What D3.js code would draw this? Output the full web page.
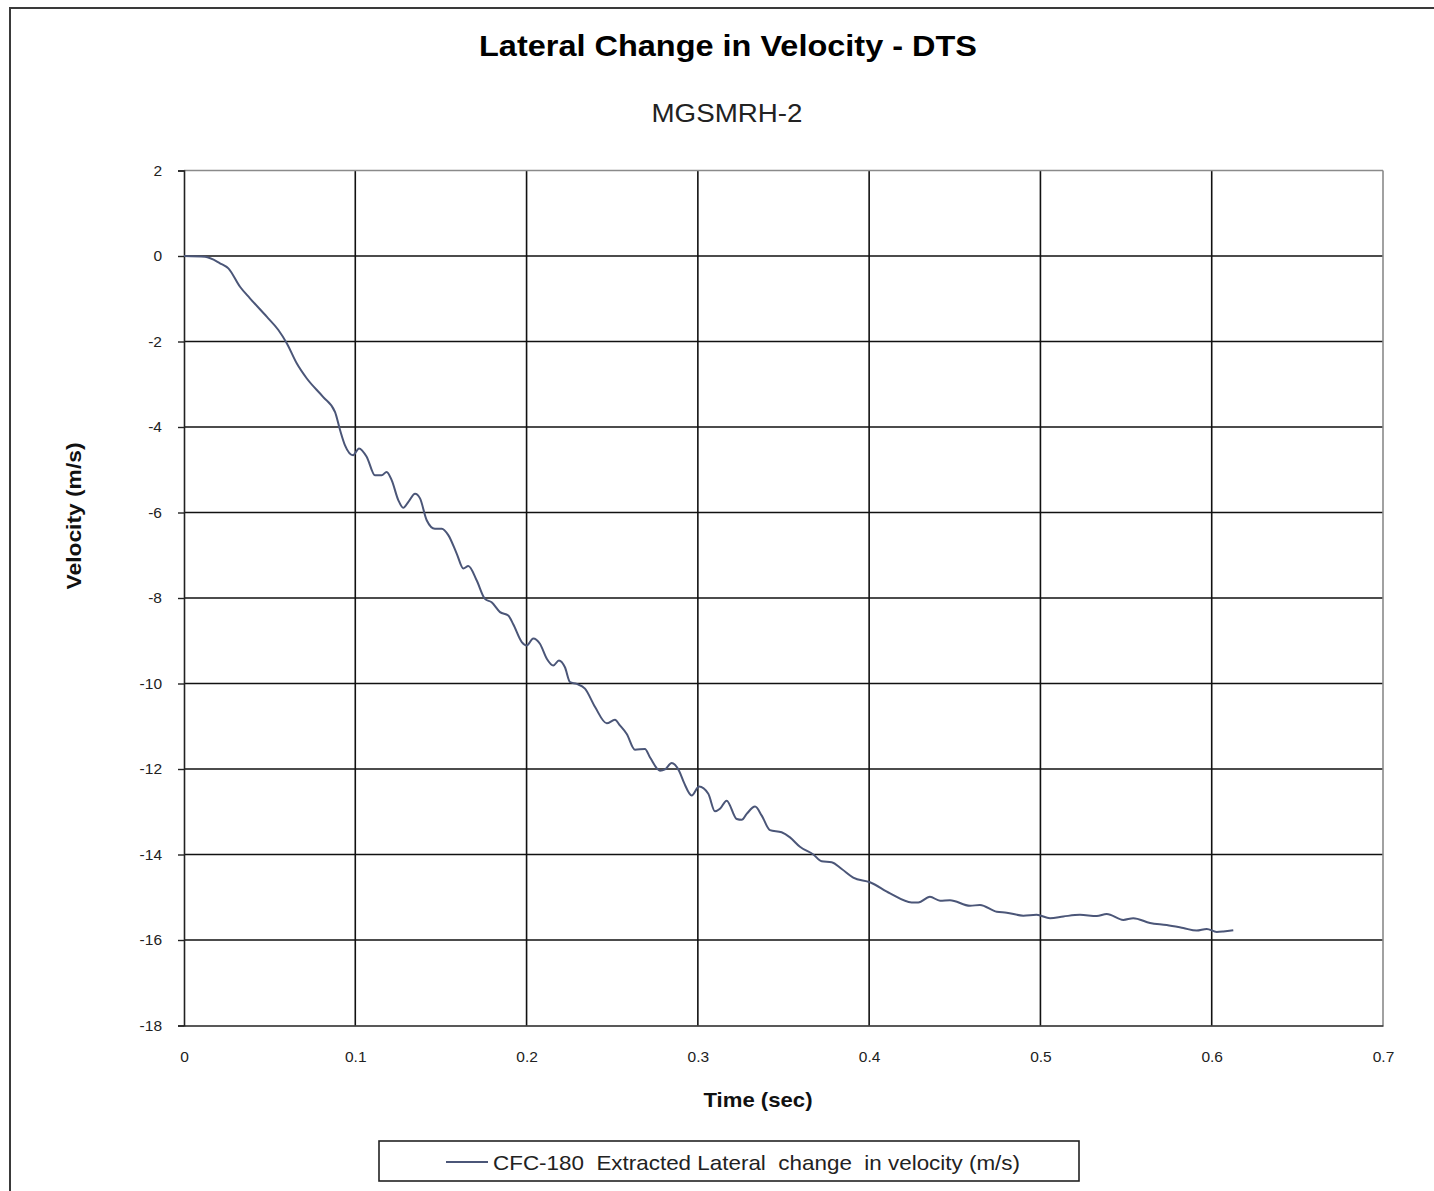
<!DOCTYPE html>
<html>
<head>
<meta charset="utf-8">
<script src="https://cdn.jsdelivr.net/npm/d3@7"></script>
<style>
  html, body { margin: 0; padding: 0; background: #fff; }
  svg { display: block; }
  text { font-family: "Liberation Sans", Arial, sans-serif; }
</style>
</head>
<body>
<svg id="chart" width="1434" height="1191"></svg>
<script>
const titleText = "Lateral Change in Velocity - DTS";
const subtitleText = "MGSMRH-2";
const xAxisTitle = "Time (sec)";
const yAxisTitle = "Velocity (m/s)";
const legendLabel = "CFC-180  Extracted Lateral  change  in velocity (m/s)";
const xTicks = [0, 0.1, 0.2, 0.3, 0.4, 0.5, 0.6, 0.7];
const yTicks = [2, 0, -2, -4, -6, -8, -10, -12, -14, -16, -18];

const time = [0, 0.0123, 0.0210, 0.0259, 0.0327, 0.0385, 0.0483, 0.0551, 0.0600, 0.0658,
  0.0716, 0.0813, 0.0882, 0.0911, 0.0940, 0.0987, 0.1022, 0.1067, 0.1115, 0.1154,
  0.1183, 0.1213, 0.1251, 0.1280, 0.1310, 0.1349, 0.1378, 0.1417, 0.1465, 0.1505,
  0.1543, 0.1592, 0.1631, 0.1660, 0.1709, 0.1757, 0.1796, 0.1845, 0.1893, 0.1923,
  0.1972, 0.2001, 0.2039, 0.2078, 0.2118, 0.2156, 0.2189, 0.2224, 0.2254, 0.2293,
  0.2341, 0.2400, 0.2468, 0.2516, 0.2545, 0.2585, 0.2633, 0.2691, 0.2721, 0.2779,
  0.2808, 0.2847, 0.2890, 0.2919, 0.2964, 0.3007, 0.3061, 0.3100, 0.3129, 0.3168,
  0.3227, 0.3256, 0.3285, 0.3334, 0.3373, 0.3421, 0.3489, 0.3538, 0.3596, 0.3674,
  0.3723, 0.3781, 0.3840, 0.3907, 0.4005, 0.4122, 0.4248, 0.4287, 0.4355, 0.4414,
  0.4472, 0.4589, 0.4647, 0.4745, 0.4803, 0.4900, 0.4978, 0.5056, 0.5134, 0.5231,
  0.5329, 0.5387, 0.5484, 0.5542, 0.5640, 0.5737, 0.5834, 0.5912, 0.5971, 0.6029,
  0.6068, 0.6126];
const velocity = [0, -0.02, -0.17, -0.29, -0.72, -0.99, -1.42, -1.73, -2.04, -2.51,
  -2.86, -3.30, -3.65, -4.07, -4.43, -4.66, -4.50, -4.70, -5.13, -5.13,
  -5.05, -5.25, -5.71, -5.89, -5.75, -5.56, -5.67, -6.18, -6.38, -6.38,
  -6.53, -6.96, -7.31, -7.25, -7.59, -8.02, -8.10, -8.33, -8.41, -8.62,
  -9.03, -9.11, -8.95, -9.07, -9.42, -9.58, -9.46, -9.62, -9.97, -10.01,
  -10.12, -10.55, -10.93, -10.85, -10.98, -11.18, -11.55, -11.53, -11.73, -12.04,
  -12.01, -11.86, -12.04, -12.32, -12.62, -12.41, -12.58, -12.99, -12.93, -12.74,
  -13.17, -13.19, -13.05, -12.88, -13.09, -13.43, -13.48, -13.60, -13.82, -14.00,
  -14.16, -14.18, -14.34, -14.54, -14.65, -14.91, -15.12, -15.12, -14.99, -15.08,
  -15.07, -15.20, -15.18, -15.34, -15.36, -15.43, -15.41, -15.49, -15.45, -15.41,
  -15.44, -15.39, -15.53, -15.49, -15.60, -15.65, -15.72, -15.78, -15.74, -15.81,
  -15.80, -15.77];

const data = time.map((t, i) => ({ t, v: velocity[i] }));

const svg = d3.select("#chart");
const plot = { left: 184, right: 1383, top: 170.5, bottom: 1025.5 };
const lineColor = "#4b5678";

// outer frame
svg.append("rect").attr("x", 10).attr("y", 8).attr("width", 1440).attr("height", 1200)
  .attr("fill", "#fff").attr("stroke", "#3a3a3a").attr("stroke-width", 2);

const x = d3.scaleLinear().domain([0, 0.7]).range([plot.left, plot.right]);
const y = d3.scaleLinear().domain([-18, 2]).range([plot.bottom, plot.top]);

// gridlines
const g = svg.append("g");
g.selectAll("line.hgrid").data(yTicks.filter(d => d !== 2 && d !== -18)).join("line")
  .attr("x1", plot.left).attr("x2", plot.right)
  .attr("y1", d => y(d)).attr("y2", d => y(d))
  .attr("stroke", "#111").attr("stroke-width", 1.6);
g.selectAll("line.vgrid").data(xTicks.filter(d => d !== 0 && d !== 0.7)).join("line")
  .attr("x1", d => x(d)).attr("x2", d => x(d))
  .attr("y1", plot.top).attr("y2", plot.bottom)
  .attr("stroke", "#111").attr("stroke-width", 1.6);
// top and right border (lighter)
g.append("line").attr("x1", plot.left).attr("x2", plot.right).attr("y1", plot.top).attr("y2", plot.top)
  .attr("stroke", "#8a8a8a").attr("stroke-width", 1.6);
g.append("line").attr("x1", plot.right).attr("x2", plot.right).attr("y1", plot.top).attr("y2", plot.bottom)
  .attr("stroke", "#8a8a8a").attr("stroke-width", 1.6);

// axes
const yAxis = d3.axisLeft(y).tickValues(yTicks).tickSize(6).tickPadding(16).tickFormat(d => String(d));
const xAxis = d3.axisBottom(x).tickValues(xTicks).tickSize(0).tickPadding(25)
  .tickFormat(d => String(d));
const ya = svg.append("g").attr("transform", `translate(${plot.left},0)`).call(yAxis);
const xa = svg.append("g").attr("transform", `translate(0,${plot.bottom})`).call(xAxis);
[ya, xa].forEach(a => {
  a.select(".domain").attr("stroke", "#222").attr("stroke-width", 1.6);
  a.selectAll(".tick line").attr("stroke", "#222").attr("stroke-width", 1.4);
  a.selectAll(".tick text").attr("fill", "#222").style("font-size", "15.5px")
    .style("font-family", "'Liberation Sans', Arial, sans-serif");
});
ya.selectAll(".tick text").attr("dy", "0.32em");

// line
const line = d3.line().x(d => x(d.t)).y(d => y(d.v)).curve(d3.curveMonotoneX);
svg.append("path").datum(data).attr("d", line)
  .attr("fill", "none").attr("stroke", lineColor).attr("stroke-width", 2);

// titles
svg.append("text").attr("x", 728).attr("y", 56).attr("text-anchor", "middle")
  .style("font-size", "30px").style("font-weight", "bold").attr("fill", "#000")
  .attr("textLength", 498).attr("lengthAdjust", "spacingAndGlyphs")
  .text(titleText);
svg.append("text").attr("x", 727).attr("y", 122).attr("text-anchor", "middle")
  .style("font-size", "25px").attr("fill", "#222")
  .attr("textLength", 151).attr("lengthAdjust", "spacingAndGlyphs")
  .text(subtitleText);
svg.append("text").attr("x", 758).attr("y", 1107).attr("text-anchor", "middle")
  .style("font-size", "21px").style("font-weight", "bold").attr("fill", "#111")
  .attr("textLength", 109).attr("lengthAdjust", "spacingAndGlyphs")
  .text(xAxisTitle);
svg.append("text").attr("transform", "translate(81,516) rotate(-90)").attr("text-anchor", "middle")
  .style("font-size", "21px").style("font-weight", "bold").attr("fill", "#111")
  .attr("textLength", 147).attr("lengthAdjust", "spacingAndGlyphs")
  .text(yAxisTitle);

// legend
const lg = svg.append("g");
lg.append("rect").attr("x", 379).attr("y", 1141).attr("width", 700).attr("height", 40)
  .attr("fill", "#fff").attr("stroke", "#222").attr("stroke-width", 1.6);
lg.append("line").attr("x1", 446).attr("x2", 488).attr("y1", 1162).attr("y2", 1162)
  .attr("stroke", lineColor).attr("stroke-width", 2);
lg.append("text").attr("x", 493).attr("y", 1170).style("font-size", "21px")
  .style("white-space", "pre").attr("xml:space", "preserve").attr("fill", "#222")
  .attr("textLength", 527).attr("lengthAdjust", "spacingAndGlyphs")
  .text(legendLabel);
</script>
</body>
</html>
